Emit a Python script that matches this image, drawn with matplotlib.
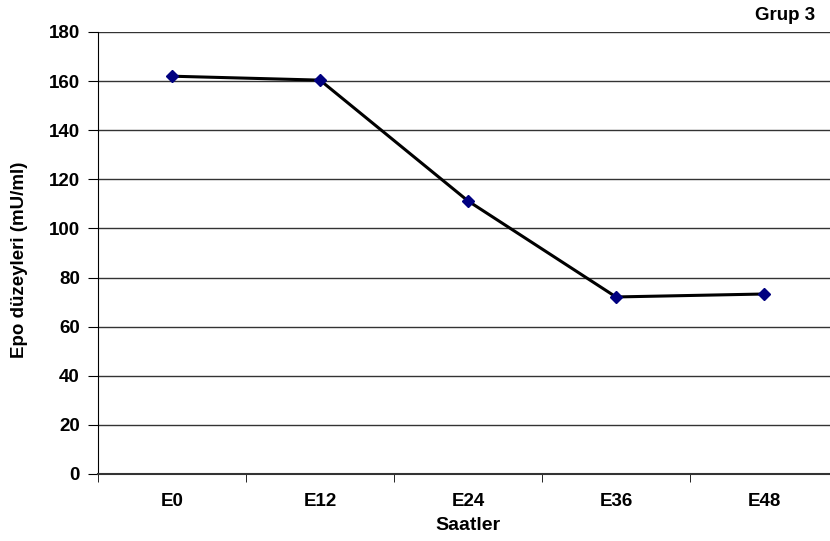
import matplotlib.pyplot as plt
import numpy as np

plt.rcParams['font.family'] = ['Liberation Sans', 'DejaVu Sans']

# data
saatler = ['E0', 'E12', 'E24', 'E36', 'E48']
epo = [162.0, 160.4, 111.2, 72.1, 73.3]

fig = plt.figure(figsize=(8.3, 5.41), dpi=100)
ax = fig.add_axes([98 / 830, 67 / 541, 740 / 830, 442 / 541])

x = np.arange(len(saatler))
ax.plot(x, epo, color='black', lw=2.2, zorder=3)
ax.plot(x, epo, ls='none', marker='D', ms=6, color='#000080', zorder=4)

ax.set_xlim(-0.5, len(saatler) - 0.5)
ax.set_ylim(0, 180)
ax.set_yticks(range(0, 181, 20))
ax.yaxis.grid(True, color='#333333', lw=1)
ax.set_axisbelow(True)

ax.set_xticks(x)
ax.set_xticklabels(saatler, fontsize=13.5, fontweight='bold')
ax.set_xticks(np.arange(-0.5, len(saatler), 1), minor=True)
ax.tick_params(axis='x', which='major', length=0, pad=14)
ax.tick_params(axis='x', which='minor', length=6, direction='out', color='black')
ax.tick_params(axis='y', length=7, direction='out', labelsize=13.5, pad=6)
for lab in ax.get_yticklabels():
    lab.set_fontweight('bold')

for s in ['top', 'right']:
    ax.spines[s].set_visible(False)
ax.spines['left'].set_color('black')
ax.spines['bottom'].set_color('#333333')
ax.spines['bottom'].set_linewidth(1.5)

ax.set_xlabel('Saatler', fontsize=14, fontweight='bold')
ax.xaxis.set_label_coords(0.5, -0.098)
ax.set_ylabel('Epo düzeyleri (mU/ml)', fontsize=13.5, fontweight='bold')
ax.yaxis.set_label_coords(-0.095, 0.484)

fig.text(785 / 830, 1 - 16 / 541, 'Grup 3', ha='center', va='center',
         fontsize=13.5, fontweight='bold')

fig.savefig('out.png', dpi=100)
